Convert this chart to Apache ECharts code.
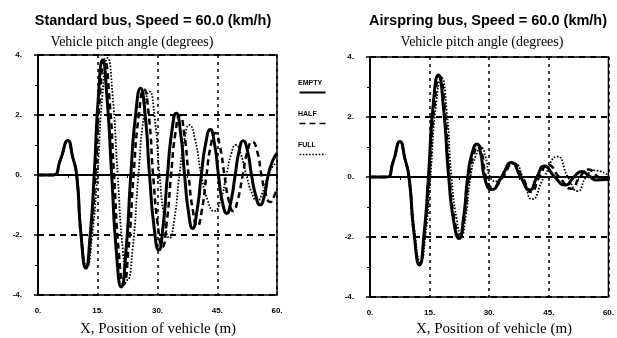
<!DOCTYPE html>
<html>
<head>
<meta charset="utf-8">
<script src="https://cdn.jsdelivr.net/npm/echarts@6/dist/echarts.min.js"></script>
<style>
  html, body { margin: 0; padding: 0; background: #fff; }
  #chart { width: 617px; height: 338px; }
</style>
</head>
<body>
<div id="chart"></div>
<script>
// tick labels
const xTicks = [0, 15, 30, 45, 60];
const yTicks = [-4, -2, 0, 2, 4];
const legendNames = ['EMPTY', 'HALF', 'FULL'];

// standard bus, [x (m), pitch (deg)]
const stdEmpty = [[0,0],[3.75,0],[5.6,0.5],[7.5,1.15],[8.7,0.6],[9.7,0],[10.8,-2.0],[12,-3.1],[13.1,-2.0],[14.1,0],[15.2,2.7],[16.2,3.83],[17.3,2.6],[18.5,0],[19.7,-2.6],[20.9,-3.73],[22.1,-2.5],[23.3,0],[24.5,2.0],[25.75,2.89],[26.9,2.0],[28,0],[29.2,-1.8],[30.3,-2.5],[31.4,-1.7],[32.5,0],[33.6,1.45],[34.7,2.06],[35.8,1.4],[36.8,0],[37.8,-1.25],[38.8,-1.78],[39.9,-1.2],[41,0],[42.1,1.05],[43.25,1.52],[44.3,1.05],[45.3,0],[46.3,-0.9],[47.4,-1.28],[48.4,-0.9],[49.5,0],[50.5,0.8],[51.5,1.14],[52.6,0.8],[53.6,0],[54.7,-0.7],[55.75,-1.0],[56.8,-0.7],[57.8,0],[59,0.5],[60,0.72]];
const stdHalf = [[0,0],[3.75,0],[5.6,0.5],[7.5,1.15],[8.7,0.6],[9.7,0],[10.8,-2.0],[12.1,-3.1],[13.3,-2.0],[14.4,0],[15.6,2.7],[16.7,3.85],[17.9,2.6],[19.1,0],[20.3,-2.6],[21.5,-3.65],[22.7,-2.5],[24,0],[25.3,2.0],[26.6,2.85],[27.8,2.0],[28.9,0],[30.1,-1.7],[31.2,-2.4],[32.3,-1.6],[33.4,0],[34.5,1.4],[35.6,2.0],[36.7,1.4],[37.8,0],[38.9,-1.2],[40,-1.7],[41.1,-1.2],[42.3,0],[43.4,1.0],[44.5,1.4],[45.6,1.0],[46.8,0],[47.9,-0.85],[49,-1.2],[50.1,-0.85],[51.4,0],[52.6,0.8],[53.8,1.11],[55,0.8],[56.1,0],[57.2,-0.65],[58.3,-0.9],[59.3,-0.7],[60,-0.45]];
const stdFull = [[0,0],[3.75,0],[5.6,0.5],[7.5,1.15],[8.7,0.6],[9.8,0],[10.9,-2.0],[12.3,-3.05],[13.6,-2.0],[14.9,0],[16.2,2.7],[17.5,3.9],[18.7,2.7],[20,0],[21.3,-2.5],[22.5,-3.5],[23.8,-2.4],[25.2,0],[26.6,2.0],[28,2.78],[29.3,1.9],[30.5,0],[31.8,-1.5],[33,-2.1],[34.2,-1.5],[35.5,0],[36.8,1.2],[38,1.67],[39.4,1.2],[41,0],[42.6,-0.85],[44.2,-1.2],[45.8,-0.85],[47.3,0],[48.5,0.7],[49.7,1.0],[50.9,0.7],[52.3,0],[53.7,-0.6],[55,-0.85],[56.3,-0.6],[57.8,0],[59,0.3],[60,0.4]];

// airspring bus
const airEmpty = [[0,0],[4.1,0],[5.8,0.5],[7.55,1.18],[8.8,0.6],[9.8,0],[11.1,-1.9],[12.45,-2.93],[13.6,-1.9],[14.7,0],[15.9,2.4],[17.2,3.4],[18.5,2.3],[19.8,0],[21.1,-1.5],[22.4,-2.05],[23.5,-1.4],[24.6,0],[25.7,0.8],[26.9,1.1],[27.9,0.75],[28.8,0],[30.7,-0.42],[33.1,0],[35.6,0.48],[37.9,0],[40.2,-0.43],[42,0],[43.9,0.37],[46.5,0],[49.2,-0.27],[51.3,0],[53.3,0.18],[55.3,0.02],[57,-0.1],[60,-0.05]];
const airHalf = [[0,0],[4.1,0],[5.8,0.5],[7.55,1.18],[8.8,0.6],[9.8,0],[11.1,-1.9],[12.5,-2.9],[13.7,-1.9],[14.9,0],[16.2,2.4],[17.5,3.35],[18.8,2.3],[20,0],[21.3,-1.45],[22.6,-2.0],[23.7,-1.4],[24.9,0],[26.1,0.75],[27.3,1.05],[28.3,0.7],[29.2,0],[31,-0.35],[33.4,0],[36,0.45],[38.3,0],[40.6,-0.5],[42.6,0],[44.8,0.4],[47.6,0],[50.7,-0.39],[52.8,0],[55,0.25],[57.5,0],[60,-0.1]];
const airFull = [[0,0],[4.1,0],[5.8,0.5],[7.55,1.18],[8.9,0.6],[9.9,0],[11.3,-1.9],[12.7,-2.85],[14,-1.9],[15.2,0],[16.6,2.4],[18,3.3],[19.3,2.2],[20.5,0],[21.8,-1.4],[23,-1.95],[24.1,-1.3],[25.3,0],[26.6,0.7],[28,0.97],[29.1,0.65],[30.2,0],[32,-0.15],[34,0.25],[36.2,0.45],[38.5,0],[40.8,-0.74],[43.8,0],[47.2,0.68],[49.8,0],[52.3,-0.47],[54.4,0],[56.5,0.22],[60,0.05]];

const lineStyles = [
    {color: '#000', width: 3, type: 'solid'},
    {color: '#000', width: 2.5, type: [6, 4]},
    {color: '#000', width: 1.8, type: [1.6, 1.6]}
]

function makeX(gridIndex) {
    return {
        type: 'value', gridIndex: gridIndex, min: 0, max: 60, interval: 15,
        axisLine: {lineStyle: {color: '#000', width: 2}},
        axisTick: {show: true, length: 4, lineStyle: {color: '#000', width: 1.5}},
        minorTick: {show: true, splitNumber: 2, length: 3, lineStyle: {color: '#000'}},
        axisLabel: {
            color: '#000', fontFamily: 'Liberation Sans', fontWeight: 'bold', fontSize: 8, margin: 12,
            formatter: v => xTicks.includes(v) ? v + '.' : ''
        },
        splitLine: {show: true, lineStyle: {color: '#000', width: 1.5, type: [3, 4]}}
    }
}

function makeY(gridIndex) {
    return {
        type: 'value', gridIndex: gridIndex, min: -4, max: 4, interval: 2,
        axisLine: {show: true, lineStyle: {color: '#000', width: 2}},
        axisTick: {show: true, length: 4, lineStyle: {color: '#000', width: 1.5}},
        minorTick: {show: true, splitNumber: 2, length: 3, lineStyle: {color: '#000'}},
        axisLabel: {
            color: '#000', fontFamily: 'Liberation Sans', fontWeight: 'bold', fontSize: 8, margin: 16,
            formatter: v => yTicks.includes(v) ? v + '.' : ''
        },
        splitLine: {show: true, lineStyle: {color: '#000', width: 2, type: [6, 5]}}
    }
}

function makeSeries(data, i, axisIndex) {
    return {
        type: 'line', name: legendNames[i], xAxisIndex: axisIndex, yAxisIndex: axisIndex,
        data: data, smooth: 0.6, showSymbol: false, symbol: 'none',
        lineStyle: lineStyles[i], z: 5 - i
    }
}

const legendGraphic = []
legendNames.forEach((name, i) => {
    const top = 80 + i * 31
    legendGraphic.push({
        type: 'text', left: 298, top: top,
        style: {text: name, fill: '#000', font: 'bold 7px "Liberation Sans"'}
    })
    legendGraphic.push({
        type: 'line', left: 297, top: top + 10,
        shape: {x1: 0, y1: 0, x2: 26, y2: 0},
        style: {stroke: '#000', lineWidth: i === 0 ? 2 : 1.5, lineDash: i === 0 ? null : lineStyles[i].type}
    })
})

const boldTitle = {fontFamily: 'Liberation Sans', fontWeight: 'bold', fontSize: 14.5, color: '#000'}
const serifTitle = {fontFamily: 'Liberation Serif', fontWeight: 'normal', fontSize: 14, color: '#000'}
const serifAxis = {fontFamily: 'Liberation Serif', fontWeight: 'normal', fontSize: 15, color: '#000'}

const option = {
    backgroundColor: '#fff',
    animation: false,
    title: [
        {text: 'Standard bus, Speed = 60.0 (km/h)', left: 148, top: 8, textAlign: 'center', textStyle: boldTitle},
        {text: 'Vehicle pitch angle (degrees)', left: 127, top: 30, textAlign: 'center', textStyle: serifTitle},
        {text: 'Airspring bus, Speed = 60.0 (km/h)', left: 483, top: 8, textAlign: 'center', textStyle: boldTitle},
        {text: 'Vehicle pitch angle (degrees)', left: 477, top: 30, textAlign: 'center', textStyle: serifTitle},
        {text: 'X, Position of vehicle (m)', left: 153, top: 317, textAlign: 'center', textStyle: serifAxis},
        {text: 'X, Position of vehicle (m)', left: 489, top: 317, textAlign: 'center', textStyle: serifAxis}
    ],
    grid: [
        {left: 38, top: 55, width: 239, height: 240, show: true, borderColor: '#000', borderWidth: 1.5},
        {left: 370, top: 57, width: 243, height: 240, show: true, borderColor: '#000', borderWidth: 1.5}
    ],
    xAxis: [makeX(0), makeX(1)],
    yAxis: [makeY(0), makeY(1)],
    series: [
        makeSeries(stdEmpty, 0, 0), makeSeries(stdHalf, 1, 0), makeSeries(stdFull, 2, 0),
        makeSeries(airEmpty, 0, 1), makeSeries(airHalf, 1, 1), makeSeries(airFull, 2, 1)
    ],
    graphic: legendGraphic
}

const chart = echarts.init(document.getElementById('chart'))
chart.setOption(option)
window.addEventListener('resize', () => chart.resize())
</script>
</body>
</html>
